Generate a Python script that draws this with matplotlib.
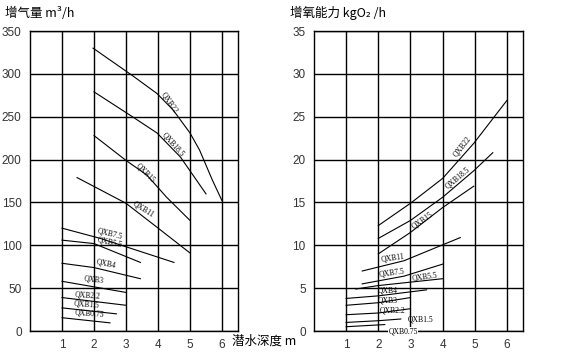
import matplotlib
matplotlib.use('Agg')
import matplotlib.pyplot as plt

plt.rcParams['font.family'] = ['Noto Sans CJK SC', 'DejaVu Sans']

# 增气量 m3/h vs depth
air_curves = {
    'QXB22':   ([1.97, 3.2, 3.97, 4.47, 5.0, 5.3, 5.7, 6.0],
                [330, 298, 277, 258, 231, 211, 176, 152]),
    'QXB18.5': ([2.0, 3.2, 3.97, 4.7, 5.5],
                [279, 250, 231, 203, 160]),
    'QXB15':   ([2.0, 3.0, 3.65, 4.27, 5.0],
                [228, 199, 182, 156, 129]),
    'QXB11':   ([1.47, 3.0, 3.97, 5.0],
                [179, 149, 121, 91]),
    'QXB7.5':  ([1.0, 2.2, 4.5], [120, 108, 80]),
    'QXB5.5':  ([1.0, 2.0, 3.45], [106, 102, 80]),
    'QXB4':    ([1.0, 2.0, 3.45], [79, 74, 61]),
    'QXB3':    ([1.0, 3.0], [58, 45]),
    'QXB2.2':  ([1.0, 3.0], [39, 30]),
    'QXB1.5':  ([1.0, 2.7], [27, 20]),
    'QXB0.75': ([1.0, 2.5], [15.5, 9.5]),
}
air_labels = {
    'QXB22': (4.35, 266, -55), 'QXB18.5': (4.47, 217, -48),
    'QXB15': (3.6, 185, -45), 'QXB11': (3.54, 142, -32),
    'QXB7.5': (2.5, 114, -14), 'QXB5.5': (2.5, 103, -12),
    'QXB4': (2.37, 79, -12), 'QXB3': (2.0, 60, -6),
    'QXB2.2': (1.8, 42, -4), 'QXB1.5': (1.77, 31, -4),
    'QXB0.75': (1.85, 20, -4),
}

# 增氧能力 kgO2/h vs depth
o2_curves = {
    'QXB22':   ([2.0, 3.0, 4.0, 4.97, 6.0], [12.3, 14.9, 17.8, 21.9, 26.9]),
    'QXB18.5': ([2.0, 3.0, 4.0, 4.97, 5.56], [10.8, 12.9, 15.6, 18.7, 20.8]),
    'QXB15':   ([2.0, 3.0, 4.0, 4.97], [9.0, 11.5, 14.4, 16.9]),
    'QXB11':   ([1.5, 2.8, 4.55], [7.0, 8.2, 10.9]),
    'QXB7.5':  ([1.5, 2.8, 4.0], [5.5, 6.4, 7.8]),
    'QXB5.5':  ([1.3, 2.0, 3.0, 4.0], [4.9, 5.3, 5.7, 6.1]),
    'QXB4':    ([1.0, 2.0, 3.5], [3.8, 4.1, 4.8]),
    'QXB3':    ([1.0, 2.0, 3.0], [3.0, 3.3, 3.9]),
    'QXB2.2':  ([1.0, 2.0, 3.0], [1.9, 2.1, 2.6]),
    'QXB1.5':  ([1.0, 2.0, 2.7], [1.0, 1.2, 1.4]),
    'QXB0.75': ([1.0, 2.2], [0.5, 0.75]),
}
o2_labels = {
    'QXB22': (4.6, 21.5, 52), 'QXB18.5': (4.47, 17.9, 40),
    'QXB15': (3.37, 12.9, 35), 'QXB11': (2.45, 8.5, 8),
    'QXB7.5': (2.43, 6.8, 8), 'QXB5.5': (3.45, 6.3, 8),
    'QXB4': (2.28, 4.7, 0), 'QXB3': (2.28, 3.5, 0),
    'QXB2.2': (2.45, 2.4, 0), 'QXB1.5': (3.3, 1.3, 0),
    'QXB0.75': (2.78, -0.1, 0),
}

depth_ticks = [1, 2, 3, 4, 5, 6]
air_ticks = [0, 50, 100, 150, 200, 250, 300, 350]
o2_ticks = [0, 5, 10, 15, 20, 25, 30, 35]

fig = plt.figure(figsize=(5.8, 3.52), dpi=100)
ax1 = fig.add_axes([30/580, 21/352, 208/580, 300/352])
ax2 = fig.add_axes([314/580, 21/352, 209/580, 300/352])


def setup(ax, yticks, curves, labels, boxed=()):
    ax.set_xlim(0, 6.5)
    ax.set_ylim(yticks[0], yticks[-1])
    ax.set_xticks(depth_ticks)
    ax.set_yticks(yticks)
    ax.grid(True, color='black', linewidth=1.0)
    ax.tick_params(length=0, labelsize=8.5, labelcolor='#333333', pad=6)
    for lab in ax.get_xticklabels() + ax.get_yticklabels():
        lab.set_family('Liberation Sans')
    for s in ax.spines.values():
        s.set_linewidth(1.0)
    for name, (xs, ys) in curves.items():
        ax.plot(xs, ys, color='black', linewidth=0.8)
    for name, (lx, ly, rot) in labels.items():
        bbox = None
        if name in boxed:
            bbox = dict(facecolor='white', edgecolor='none', pad=0.3)
        ax.text(lx, ly, name, fontsize=5.5, family='Liberation Serif',
                rotation=rot, ha='center', va='center', bbox=bbox,
                clip_on=False)


setup(ax1, air_ticks, air_curves, air_labels)
setup(ax2, o2_ticks, o2_curves, o2_labels, boxed=('QXB0.75',))

fig.text(5/580, 1 - 13/352, '增气量 m³/h', fontsize=9, va='center', ha='left')
fig.text(290/580, 1 - 13/352, '增氧能力 kgO₂ /h', fontsize=9, va='center', ha='left')
fig.text(232/580, 1 - 341/352, '潜水深度 m', fontsize=9, va='center', ha='left')

fig.savefig('out.png', dpi=100)
